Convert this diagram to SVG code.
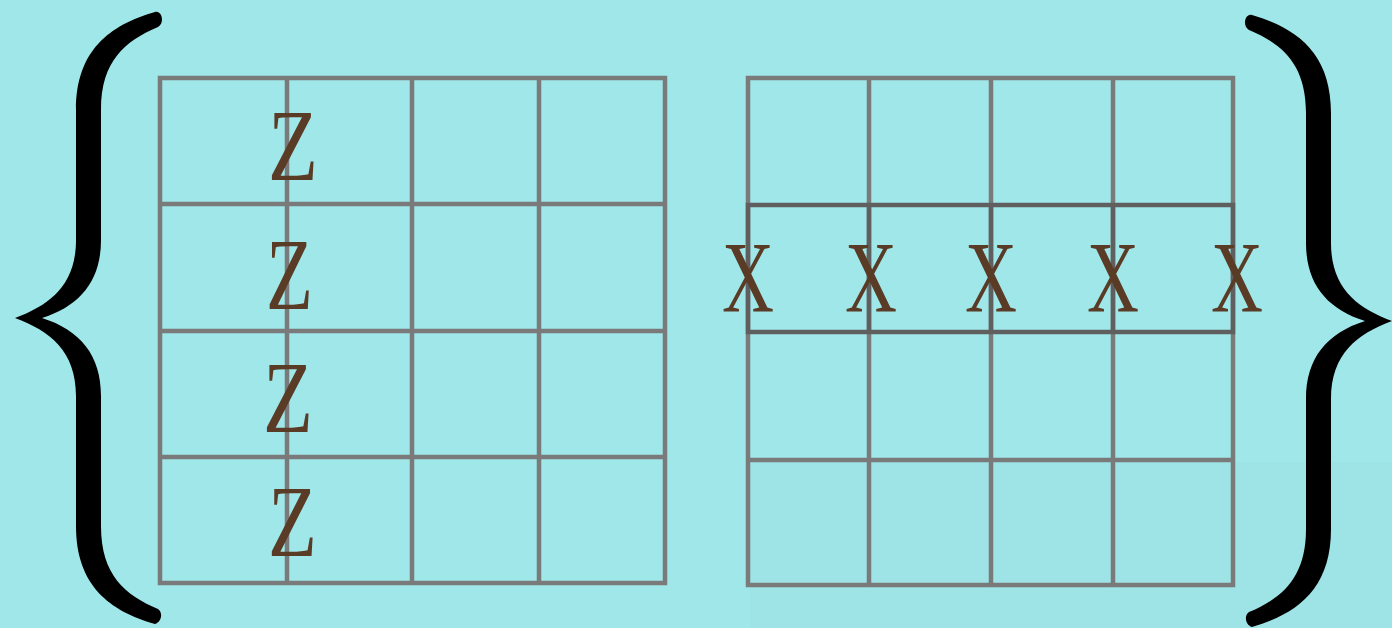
<svg xmlns="http://www.w3.org/2000/svg" width="1392" height="628" viewBox="0 0 1392 628">
<style>
.g{stroke:#7a7a7a;stroke-width:4.5;fill:none}
.h{stroke:#5f5f5f;stroke-width:4.5;fill:none}
.t{font-family:"Liberation Serif",serif;font-size:101px;fill:#5a3c26}
.b{fill:#000}
</style>
<defs>
<path id="brace" d="M155,12 C110,25 76,50 76,110 L76,240 C76,285 50,305 15,318 C50,331 76,351 76,396 L76,526 C76,586 110,611 155,624 C162,622 163,612 158,609 C125,595 101,575 101,526 L101,396 C101,355 80,330 42,318 C80,306 101,281 101,240 L101,110 C101,61 125,41 158,27 C165,23 162,10 155,12 Z"/>
</defs>
<rect width="1392" height="628" fill="#a0e7ea"/>
<rect x="750" y="462" width="642" height="166" fill="#98d8dc" opacity="0.25"/>
<g id="brace-left"><use href="#brace" class="b"/></g>
<g id="brace-right"><use href="#brace" class="b" transform="translate(1407,3) scale(-1,1)"/></g>
<g id="grid-left">
<rect x="160" y="78" width="505" height="505" class="g"/>
<path class="g" d="M287,78V583M412,78V583M539,78V583M160,204H665M160,331H665M160,457H665"/>
</g>
<g id="grid-right">
<rect x="748" y="78" width="485" height="507" class="g"/>
<path class="g" d="M869,78V585M991,78V585M1113,78V585M748,460H1233"/>
<rect x="748" y="205" width="485" height="127" class="h"/>
<path class="h" d="M869,205V332M991,205V332M1113,205V332"/>
</g>
<g id="z-labels">
<text class="t" x="268" y="180" textLength="50" lengthAdjust="spacingAndGlyphs">Z</text>
<text class="t" x="266" y="309" textLength="47" lengthAdjust="spacingAndGlyphs">Z</text>
<text class="t" x="263" y="432" textLength="50" lengthAdjust="spacingAndGlyphs">Z</text>
<text class="t" x="268" y="556" textLength="49" lengthAdjust="spacingAndGlyphs">Z</text>
</g>
<g id="x-labels">
<text class="t" x="722" y="312" textLength="52" lengthAdjust="spacingAndGlyphs">X</text>
<text class="t" x="845" y="312" textLength="52" lengthAdjust="spacingAndGlyphs">X</text>
<text class="t" x="965" y="312" textLength="52" lengthAdjust="spacingAndGlyphs">X</text>
<text class="t" x="1087" y="312" textLength="52" lengthAdjust="spacingAndGlyphs">X</text>
<text class="t" x="1211" y="312" textLength="52" lengthAdjust="spacingAndGlyphs">X</text>
</g>
</svg>
